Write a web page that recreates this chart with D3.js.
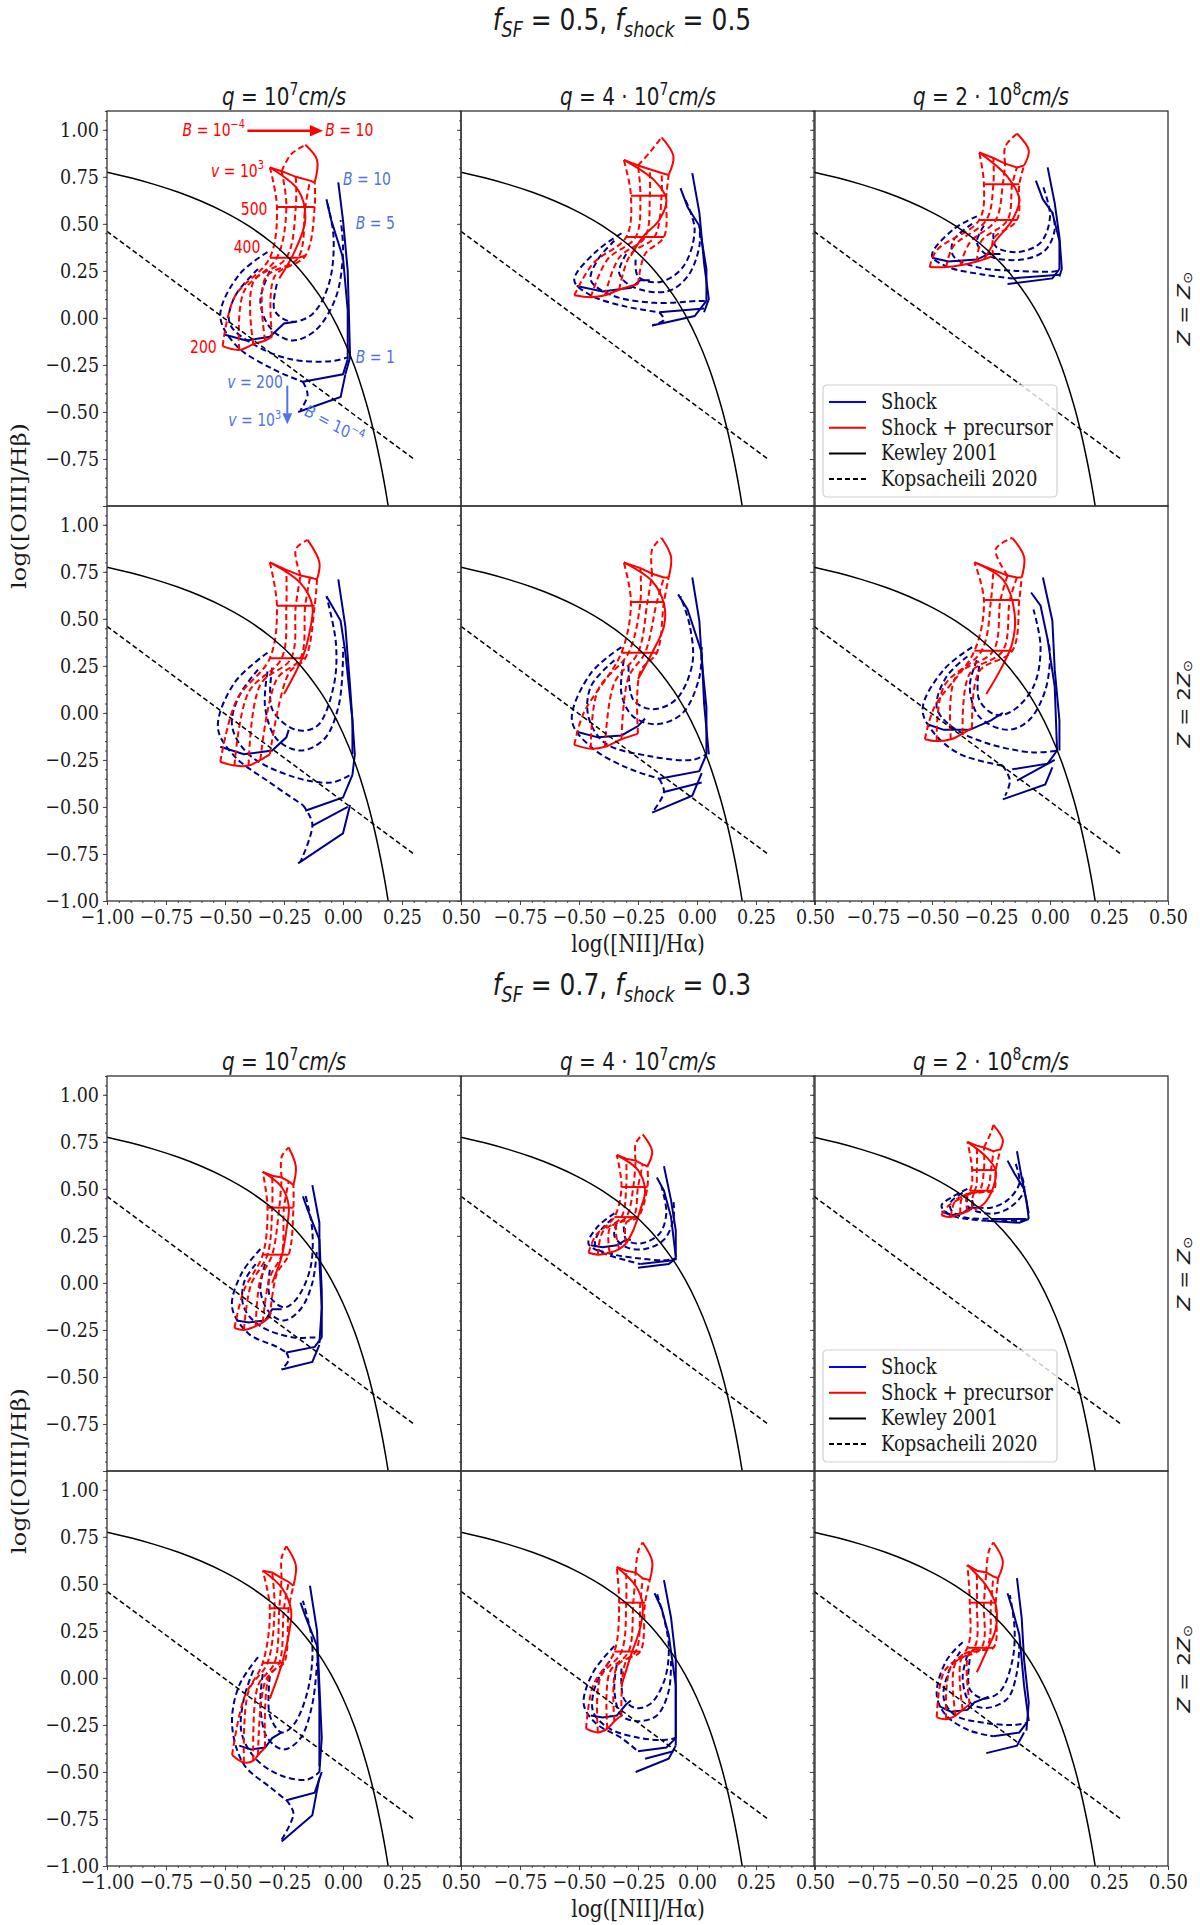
<!DOCTYPE html>
<html>
<head>
<meta charset="utf-8">
<script src="https://cdn.jsdelivr.net/npm/d3@7"></script>
<style>
  body { margin: 0; background: #fff; }
  svg text { font-family: "DejaVu Serif", serif; fill: #1a1a1a; }
  svg text.math { font-family: "DejaVu Sans", sans-serif; }
</style>
</head>
<body>
<svg id="chart" width="1200" height="1925"></svg>
<script>
// ---- text content ----
var fSF = ["0.5", "0.7"];
var fShock = ["0.5", "0.3"];
var qPre = ["10", "4 \u00b7 10", "2 \u00b7 10"];
var qExp = ["7", "7", "8"];
var zLabels = ["", "2"];
var xTicks = [-1, -0.75, -0.5, -0.25, 0, 0.25, 0.5];
var yTicks = [-1, -0.75, -0.5, -0.25, 0, 0.25, 0.5, 0.75, 1];
var legendItems = [
  { label: "Shock", color: "#0000ff", dash: null },
  { label: "Shock + precursor", color: "#ff0000", dash: null },
  { label: "Kewley 2001", color: "#000", dash: null },
  { label: "Kopsacheili 2020", color: "#000", dash: "5,3" }
];

// ---- reference lines ----
var kewley = [[-1.0,0.775],[-0.9,0.745],[-0.8,0.71],[-0.7,0.669],[-0.6,0.62],[-0.5,0.561],
  [-0.4,0.489],[-0.3,0.398],[-0.2,0.28],[-0.1,0.12],[-0.05,0.017],[0.0,-0.108],[0.05,-0.262],
  [0.1,-0.459],[0.13,-0.604],[0.16,-0.778],[0.18,-0.913],[0.19,-0.989],[0.2,-1.069]];
var kopsacheili = [[-1.0,0.46],[0.3,-0.75]];

// ---- model grids, one per panel ----
// red: shock + precursor nodes, rows v = 200, 300, 400, 500, 1000 ; columns B low -> high
// redDash / redSolid: extra arcs ; blueDash / blueSolid: shock-only tracks
var f05_z1_q1 = {
  red: [[[-0.51,-0.15],[-0.44,-0.17],[-0.38,-0.14],[-0.33,-0.12],[-0.30,-0.10]],
        [[-0.46,0.11],[-0.42,0.14],[-0.38,0.19],[-0.33,0.21],[-0.29,0.22]],
        [[-0.31,0.32],[-0.28,0.32],[-0.24,0.32],[-0.19,0.32],[-0.16,0.33]],
        [[-0.28,0.59],[-0.24,0.59],[-0.20,0.59],[-0.16,0.59],[-0.12,0.59]],
        [[-0.31,0.80],[-0.26,0.78],[-0.20,0.75],[-0.14,0.73],[-0.12,0.72]]],
  redDash: [[[-0.26,0.78],[-0.22,0.87],[-0.16,0.92]]],
  redSolid: [[[-0.16,0.92],[-0.11,0.84],[-0.12,0.72]],
             [[-0.31,0.80],[-0.19,0.68],[-0.16,0.52],[-0.21,0.34],[-0.27,0.21]]],
  blueDash: [[[-0.32,0.35],[-0.44,0.23],[-0.52,0.01],[-0.45,-0.15],[-0.30,-0.27],[-0.17,-0.34]],
             [[-0.36,0.26],[-0.46,0.11],[-0.48,-0.03],[-0.38,-0.14],[-0.22,-0.22],[-0.05,-0.23],[0.02,-0.21]],
             [[-0.31,0.25],[-0.35,0.09],[-0.31,-0.05],[-0.22,-0.12],[-0.12,-0.07],[-0.03,0.11],[0.00,0.36],[-0.01,0.52]],
             [[-0.28,0.18],[-0.29,0.04],[-0.22,-0.02],[-0.13,0.02],[-0.06,0.18],[-0.04,0.43],[-0.07,0.63]],
             [[-0.17,-0.34],[-0.15,-0.41],[-0.18,-0.49]]],
  blueSolid: [[[-0.02,0.72],[0.00,0.52],[0.02,0.25],[0.03,-0.21],[0.01,-0.30]],
              [[-0.07,0.63],[-0.05,0.52],[0.00,0.32],[0.02,0.04],[0.02,-0.22]],
              [[-0.17,-0.34],[0.00,-0.30],[0.02,-0.22]],
              [[-0.19,-0.50],[-0.01,-0.42],[0.01,-0.30]],
              [[-0.50,-0.09],[-0.41,-0.12],[-0.31,-0.10],[-0.25,-0.03],[-0.20,-0.02]]]
};
var f05_z1_q2 = {
  red: [[[-0.52,0.12],[-0.45,0.11],[-0.39,0.12],[-0.33,0.15],[-0.25,0.18]],
        [[-0.44,0.29],[-0.38,0.31],[-0.33,0.32],[-0.28,0.34],[-0.22,0.34]],
        [[-0.30,0.43],[-0.26,0.43],[-0.22,0.43],[-0.18,0.43],[-0.14,0.43]],
        [[-0.28,0.65],[-0.24,0.65],[-0.20,0.65],[-0.15,0.65],[-0.13,0.65]],
        [[-0.31,0.84],[-0.25,0.81],[-0.20,0.79],[-0.15,0.77],[-0.12,0.76]]],
  redDash: [[[-0.25,0.81],[-0.20,0.88],[-0.15,0.96]]],
  redSolid: [[[-0.15,0.96],[-0.10,0.86],[-0.12,0.76]],
             [[-0.31,0.84],[-0.18,0.73],[-0.13,0.63],[-0.16,0.52],[-0.23,0.43],[-0.28,0.33]]],
  blueDash: [[[-0.32,0.45],[-0.43,0.35],[-0.52,0.20],[-0.45,0.12],[-0.30,0.06],[-0.16,0.03]],
             [[-0.35,0.41],[-0.42,0.31],[-0.45,0.20],[-0.36,0.12],[-0.18,0.08],[0.00,0.09],[0.04,0.09]],
             [[-0.30,0.34],[-0.33,0.24],[-0.28,0.17],[-0.13,0.14],[-0.04,0.22],[0.01,0.38],[0.01,0.49]],
             [[-0.26,0.31],[-0.25,0.22],[-0.16,0.19],[-0.06,0.27],[-0.01,0.47],[-0.05,0.63]],
             [[-0.16,0.03],[-0.14,-0.01],[-0.19,-0.04]]],
  blueSolid: [[[-0.02,0.77],[0.01,0.56],[0.03,0.29],[0.05,0.10],[0.03,0.03]],
              [[-0.07,0.69],[-0.04,0.59],[0.01,0.49],[0.04,0.26],[0.04,0.09]],
              [[-0.19,-0.04],[-0.01,0.01],[0.04,0.09]],
              [[-0.16,0.03],[0.03,0.05]],
              [[-0.51,0.17],[-0.40,0.14],[-0.28,0.16],[-0.24,0.20],[-0.20,0.20]]]
};
var f05_z1_q3 = {
  red: [[[-0.51,0.27],[-0.44,0.27],[-0.38,0.28],[-0.31,0.30],[-0.24,0.33]],
        [[-0.48,0.36],[-0.41,0.38],[-0.34,0.40],[-0.29,0.41],[-0.24,0.42]],
        [[-0.30,0.52],[-0.27,0.52],[-0.23,0.52],[-0.18,0.52],[-0.14,0.52]],
        [[-0.28,0.71],[-0.24,0.71],[-0.20,0.71],[-0.16,0.71],[-0.13,0.71]],
        [[-0.30,0.88],[-0.24,0.85],[-0.19,0.82],[-0.14,0.80],[-0.11,0.81]]],
  redDash: [[[-0.19,0.82],[-0.19,0.91],[-0.14,0.98]]],
  redSolid: [[[-0.14,0.98],[-0.09,0.89],[-0.11,0.81]],
             [[-0.30,0.88],[-0.18,0.75],[-0.13,0.63],[-0.16,0.52],[-0.23,0.41],[-0.28,0.31]]],
  blueDash: [[[-0.31,0.54],[-0.41,0.47],[-0.50,0.33],[-0.43,0.27],[-0.28,0.23],[-0.16,0.21]],
             [[-0.33,0.50],[-0.41,0.41],[-0.41,0.33],[-0.31,0.27],[-0.14,0.25],[0.03,0.25],[0.04,0.26]],
             [[-0.28,0.49],[-0.31,0.40],[-0.26,0.33],[-0.12,0.31],[-0.02,0.36],[0.02,0.47],[0.01,0.56]],
             [[-0.24,0.45],[-0.23,0.38],[-0.14,0.35],[-0.04,0.40],[0.00,0.54],[-0.03,0.70]]],
  blueSolid: [[[-0.01,0.80],[0.02,0.61],[0.04,0.43],[0.05,0.26],[0.04,0.22]],
              [[-0.06,0.73],[-0.03,0.63],[0.01,0.56],[0.04,0.41],[0.04,0.26]],
              [[-0.18,0.18],[0.01,0.21],[0.04,0.26]],
              [[-0.16,0.21],[0.04,0.23]],
              [[-0.50,0.32],[-0.43,0.30],[-0.31,0.31],[-0.26,0.34],[-0.21,0.34]]]
};
var f05_z2_q1 = {
  red: [[[-0.52,-0.26],[-0.46,-0.28],[-0.40,-0.28],[-0.35,-0.25],[-0.31,-0.22]],
        [[-0.45,0.07],[-0.40,0.11],[-0.35,0.15],[-0.28,0.18],[-0.23,0.21]],
        [[-0.31,0.29],[-0.26,0.29],[-0.22,0.29],[-0.18,0.29],[-0.16,0.29]],
        [[-0.28,0.57],[-0.24,0.57],[-0.20,0.57],[-0.16,0.57],[-0.12,0.57]],
        [[-0.31,0.80],[-0.24,0.76],[-0.18,0.73],[-0.14,0.72],[-0.11,0.71]]],
  redDash: [[[-0.18,0.73],[-0.20,0.87],[-0.15,0.92]]],
  redSolid: [[[-0.15,0.92],[-0.10,0.80],[-0.11,0.71]],
             [[-0.31,0.80],[-0.18,0.69],[-0.13,0.57],[-0.14,0.44],[-0.17,0.30],[-0.25,0.10]]],
  blueDash: [[[-0.32,0.32],[-0.46,0.16],[-0.53,-0.08],[-0.46,-0.23],[-0.31,-0.37],[-0.17,-0.49]],
             [[-0.36,0.23],[-0.44,0.09],[-0.47,-0.07],[-0.40,-0.22],[-0.21,-0.34],[-0.05,-0.37],[0.03,-0.33]],
             [[-0.32,0.22],[-0.33,0.03],[-0.28,-0.14],[-0.18,-0.20],[-0.08,-0.14],[-0.02,0.03],[0.00,0.28],[0.00,0.35]],
             [[-0.30,0.24],[-0.30,0.02],[-0.20,-0.09],[-0.11,-0.07],[-0.04,0.14],[-0.03,0.37],[-0.07,0.62]],
             [[-0.17,-0.49],[-0.13,-0.59],[-0.18,-0.79]]],
  blueSolid: [[[-0.02,0.71],[0.01,0.46],[0.03,0.14],[0.05,-0.22],[0.04,-0.33]],
              [[-0.07,0.62],[-0.01,0.49],[0.01,0.32],[0.04,-0.04],[0.04,-0.22]],
              [[-0.16,-0.52],[0.00,-0.45],[0.04,-0.33]],
              [[-0.19,-0.80],[0.00,-0.64],[0.03,-0.49]],
              [[-0.13,-0.60],[0.02,-0.50]],
              [[-0.52,-0.18],[-0.42,-0.22],[-0.30,-0.20],[-0.24,-0.13],[-0.23,-0.09]]]
};
var f05_z2_q2 = {
  red: [[[-0.52,-0.17],[-0.45,-0.19],[-0.39,-0.18],[-0.32,-0.14],[-0.25,-0.11]],
        [[-0.48,0.00],[-0.42,0.12],[-0.35,0.16],[-0.29,0.19],[-0.24,0.22]],
        [[-0.32,0.32],[-0.29,0.32],[-0.25,0.32],[-0.22,0.32],[-0.17,0.32]],
        [[-0.28,0.59],[-0.24,0.59],[-0.21,0.59],[-0.17,0.59],[-0.14,0.59]],
        [[-0.31,0.80],[-0.24,0.77],[-0.19,0.74],[-0.14,0.72],[-0.12,0.72]]],
  redDash: [[[-0.19,0.74],[-0.19,0.87],[-0.15,0.93]]],
  redSolid: [[[-0.15,0.93],[-0.11,0.83],[-0.12,0.72]],
             [[-0.31,0.80],[-0.19,0.70],[-0.14,0.58],[-0.14,0.46],[-0.19,0.32],[-0.25,0.18]]],
  blueDash: [[[-0.32,0.35],[-0.45,0.21],[-0.53,-0.04],[-0.45,-0.18],[-0.30,-0.29],[-0.16,-0.35]],
             [[-0.35,0.28],[-0.45,0.14],[-0.46,-0.02],[-0.39,-0.16],[-0.20,-0.23],[-0.02,-0.25],[0.04,-0.22]],
             [[-0.31,0.28],[-0.32,0.10],[-0.27,-0.02],[-0.17,-0.06],[-0.06,0.00],[0.01,0.19],[0.02,0.35]],
             [[-0.29,0.25],[-0.27,0.07],[-0.19,0.02],[-0.09,0.07],[-0.02,0.26],[-0.03,0.46],[-0.07,0.62]],
             [[-0.16,-0.35],[-0.14,-0.42],[-0.19,-0.53]]],
  blueSolid: [[[-0.02,0.72],[0.01,0.49],[0.02,0.28],[0.04,0.03],[0.04,-0.22]],
              [[-0.08,0.63],[-0.04,0.55],[0.02,0.32],[0.03,0.05],[0.05,-0.22]],
              [[-0.16,-0.35],[0.01,-0.31],[0.04,-0.22]],
              [[-0.19,-0.53],[-0.02,-0.44],[0.02,-0.32]],
              [[-0.14,-0.42],[0.02,-0.37]],
              [[-0.51,-0.10],[-0.42,-0.13],[-0.32,-0.12],[-0.25,-0.07],[-0.22,-0.03]]]
};
var f05_z2_q3 = {
  red: [[[-0.53,-0.14],[-0.48,-0.15],[-0.42,-0.14],[-0.37,-0.11],[-0.33,-0.08]],
        [[-0.49,0.03],[-0.45,0.14],[-0.40,0.19],[-0.34,0.21],[-0.30,0.22]],
        [[-0.32,0.33],[-0.29,0.33],[-0.24,0.33],[-0.20,0.33],[-0.16,0.33]],
        [[-0.28,0.60],[-0.25,0.60],[-0.21,0.60],[-0.17,0.60],[-0.13,0.60]],
        [[-0.32,0.80],[-0.24,0.76],[-0.18,0.73],[-0.14,0.72],[-0.12,0.72]]],
  redDash: [[[-0.18,0.73],[-0.23,0.87],[-0.16,0.93]]],
  redSolid: [[[-0.16,0.93],[-0.11,0.83],[-0.12,0.72]],
             [[-0.32,0.80],[-0.20,0.71],[-0.15,0.53],[-0.16,0.37],[-0.21,0.23],[-0.27,0.10]]],
  blueDash: [[[-0.33,0.35],[-0.45,0.23],[-0.54,0.02],[-0.49,-0.11],[-0.38,-0.22],[-0.20,-0.28]],
             [[-0.35,0.30],[-0.44,0.19],[-0.48,0.03],[-0.42,-0.07],[-0.27,-0.16],[-0.07,-0.21],[0.03,-0.20]],
             [[-0.31,0.28],[-0.34,0.14],[-0.30,-0.02],[-0.18,-0.09],[-0.09,-0.04],[-0.02,0.12],[0.00,0.32],[-0.01,0.39]],
             [[-0.30,0.25],[-0.30,0.07],[-0.23,-0.01],[-0.16,0.01],[-0.07,0.14],[-0.04,0.35],[-0.07,0.55]],
             [[-0.20,-0.28],[-0.17,-0.36],[-0.19,-0.44]]],
  blueSolid: [[[-0.03,0.72],[0.01,0.49],[0.02,0.23],[0.04,-0.04],[0.04,-0.20]],
              [[-0.08,0.64],[-0.04,0.57],[-0.01,0.39],[0.02,0.14],[0.03,-0.20]],
              [[-0.16,-0.30],[-0.01,-0.27],[0.03,-0.20]],
              [[-0.20,-0.46],[-0.02,-0.38],[0.01,-0.29]],
              [[-0.14,-0.36],[0.02,-0.25]],
              [[-0.52,-0.06],[-0.45,-0.09],[-0.34,-0.09],[-0.25,-0.04],[-0.20,0.00]]]
};
var f07_z1_q1 = {
  red: [[[-0.46,-0.24],[-0.42,-0.25],[-0.37,-0.23],[-0.34,-0.21],[-0.31,-0.18]],
        [[-0.42,-0.04],[-0.39,-0.01],[-0.35,0.02],[-0.31,0.03],[-0.28,0.05]],
        [[-0.34,0.15],[-0.32,0.15],[-0.30,0.15],[-0.26,0.15],[-0.23,0.15]],
        [[-0.32,0.40],[-0.30,0.40],[-0.27,0.40],[-0.25,0.40],[-0.21,0.40]],
        [[-0.34,0.59],[-0.30,0.57],[-0.26,0.56],[-0.23,0.54],[-0.21,0.52]]],
  redDash: [[[-0.26,0.56],[-0.26,0.67],[-0.23,0.72]]],
  redSolid: [[[-0.23,0.72],[-0.20,0.62],[-0.21,0.52]],
             [[-0.34,0.59],[-0.26,0.51],[-0.23,0.41],[-0.24,0.28],[-0.26,0.14],[-0.30,0.00]]],
  blueDash: [[[-0.35,0.18],[-0.43,0.05],[-0.47,-0.13],[-0.40,-0.27],[-0.28,-0.34],[-0.24,-0.37]],
             [[-0.37,0.10],[-0.42,0.00],[-0.42,-0.13],[-0.35,-0.23],[-0.21,-0.29],[-0.13,-0.29],[-0.10,-0.29]],
             [[-0.33,0.10],[-0.35,-0.04],[-0.31,-0.16],[-0.25,-0.20],[-0.18,-0.14],[-0.13,0.00],[-0.11,0.18]],
             [[-0.31,0.07],[-0.31,-0.07],[-0.25,-0.13],[-0.20,-0.09],[-0.14,0.07],[-0.13,0.28],[-0.16,0.47]],
             [[-0.24,-0.37],[-0.23,-0.41],[-0.26,-0.46]]],
  blueSolid: [[[-0.13,0.52],[-0.10,0.32],[-0.10,0.12],[-0.09,-0.13],[-0.10,-0.32]],
              [[-0.17,0.46],[-0.15,0.39],[-0.10,0.23],[-0.09,-0.04],[-0.09,-0.29]],
              [[-0.24,-0.37],[-0.12,-0.34],[-0.09,-0.29]],
              [[-0.26,-0.46],[-0.13,-0.42],[-0.10,-0.33]],
              [[-0.45,-0.20],[-0.40,-0.21],[-0.33,-0.20],[-0.30,-0.14],[-0.26,-0.14]]]
};
var f07_z1_q2 = {
  red: [[[-0.46,0.16],[-0.42,0.15],[-0.37,0.16],[-0.33,0.18],[-0.30,0.21]],
        [[-0.43,0.25],[-0.40,0.27],[-0.37,0.29],[-0.34,0.31],[-0.30,0.32]],
        [[-0.35,0.35],[-0.32,0.35],[-0.30,0.35],[-0.27,0.35],[-0.25,0.35]],
        [[-0.32,0.51],[-0.30,0.51],[-0.27,0.51],[-0.25,0.51],[-0.21,0.51]],
        [[-0.34,0.68],[-0.30,0.66],[-0.26,0.65],[-0.23,0.63],[-0.21,0.62]]],
  redDash: [[[-0.26,0.65],[-0.26,0.74],[-0.23,0.79]]],
  redSolid: [[[-0.23,0.79],[-0.19,0.70],[-0.21,0.62]],
             [[-0.34,0.68],[-0.25,0.60],[-0.22,0.49],[-0.24,0.39],[-0.27,0.28],[-0.30,0.21]]],
  blueDash: [[[-0.35,0.37],[-0.42,0.30],[-0.46,0.21],[-0.40,0.16],[-0.30,0.12],[-0.24,0.10]],
             [[-0.36,0.34],[-0.42,0.26],[-0.43,0.19],[-0.35,0.15],[-0.24,0.13],[-0.14,0.12],[-0.09,0.13]],
             [[-0.34,0.32],[-0.35,0.25],[-0.30,0.19],[-0.22,0.18],[-0.14,0.23],[-0.10,0.34],[-0.10,0.44]],
             [[-0.31,0.30],[-0.30,0.23],[-0.24,0.21],[-0.16,0.26],[-0.13,0.37],[-0.15,0.51]]],
  blueSolid: [[[-0.14,0.62],[-0.11,0.44],[-0.09,0.28],[-0.09,0.12]],
              [[-0.17,0.56],[-0.14,0.49],[-0.11,0.35],[-0.09,0.14]],
              [[-0.25,0.08],[-0.12,0.10],[-0.09,0.13]],
              [[-0.24,0.10],[-0.10,0.12]],
              [[-0.45,0.20],[-0.40,0.19],[-0.34,0.20],[-0.30,0.23],[-0.28,0.23]]]
};
var f07_z1_q3 = {
  red: [[[-0.46,0.36],[-0.42,0.35],[-0.38,0.37],[-0.35,0.38],[-0.33,0.40]],
        [[-0.43,0.41],[-0.40,0.44],[-0.37,0.46],[-0.35,0.47],[-0.32,0.48]],
        [[-0.34,0.49],[-0.32,0.49],[-0.30,0.49],[-0.27,0.49],[-0.24,0.49]],
        [[-0.33,0.60],[-0.31,0.60],[-0.28,0.60],[-0.25,0.60],[-0.23,0.60]],
        [[-0.35,0.75],[-0.31,0.73],[-0.28,0.72],[-0.24,0.70],[-0.21,0.71]]],
  redDash: [[[-0.28,0.72],[-0.25,0.80],[-0.24,0.84]]],
  redSolid: [[[-0.24,0.84],[-0.20,0.76],[-0.21,0.71]],
             [[-0.35,0.75],[-0.27,0.67],[-0.23,0.60],[-0.24,0.51],[-0.28,0.42],[-0.32,0.39]]],
  blueDash: [[[-0.35,0.50],[-0.41,0.46],[-0.46,0.41],[-0.42,0.36],[-0.35,0.34],[-0.27,0.33]],
             [[-0.37,0.48],[-0.42,0.43],[-0.42,0.39],[-0.37,0.35],[-0.24,0.34],[-0.13,0.33],[-0.09,0.34]],
             [[-0.35,0.46],[-0.35,0.41],[-0.31,0.38],[-0.23,0.37],[-0.16,0.41],[-0.11,0.49],[-0.12,0.57]],
             [[-0.33,0.44],[-0.32,0.41],[-0.25,0.40],[-0.18,0.44],[-0.13,0.53],[-0.15,0.65]]],
  blueSolid: [[[-0.14,0.70],[-0.12,0.56],[-0.10,0.44],[-0.09,0.34]],
              [[-0.18,0.65],[-0.15,0.58],[-0.11,0.50],[-0.09,0.37]],
              [[-0.27,0.33],[-0.13,0.32],[-0.09,0.34]],
              [[-0.25,0.34],[-0.10,0.34]],
              [[-0.46,0.38],[-0.42,0.36],[-0.37,0.37],[-0.34,0.40],[-0.31,0.40]]]
};
var f07_z2_q1 = {
  red: [[[-0.47,-0.41],[-0.42,-0.45],[-0.38,-0.44],[-0.36,-0.41],[-0.33,-0.37]],
        [[-0.42,-0.11],[-0.40,-0.07],[-0.36,-0.04],[-0.33,-0.02],[-0.31,0.02]],
        [[-0.34,0.08],[-0.32,0.08],[-0.29,0.08],[-0.27,0.08],[-0.25,0.08]],
        [[-0.31,0.37],[-0.29,0.37],[-0.27,0.37],[-0.25,0.37],[-0.23,0.37]],
        [[-0.34,0.57],[-0.30,0.56],[-0.26,0.53],[-0.23,0.51],[-0.21,0.49]]],
  redDash: [[[-0.26,0.53],[-0.26,0.64],[-0.24,0.70]]],
  redSolid: [[[-0.24,0.70],[-0.20,0.60],[-0.21,0.49]],
             [[-0.34,0.57],[-0.26,0.48],[-0.22,0.36],[-0.23,0.23],[-0.26,0.07],[-0.31,-0.11]]],
  blueDash: [[[-0.36,0.11],[-0.44,-0.04],[-0.47,-0.25],[-0.42,-0.46],[-0.31,-0.58],[-0.24,-0.65]],
             [[-0.38,0.04],[-0.42,-0.11],[-0.43,-0.29],[-0.37,-0.43],[-0.26,-0.52],[-0.15,-0.54],[-0.10,-0.50]],
             [[-0.34,0.02],[-0.35,-0.15],[-0.32,-0.32],[-0.25,-0.38],[-0.18,-0.32],[-0.13,-0.14],[-0.11,0.08]],
             [[-0.31,0.01],[-0.31,-0.20],[-0.26,-0.29],[-0.21,-0.25],[-0.15,-0.07],[-0.13,0.18],[-0.17,0.41]],
             [[-0.24,-0.65],[-0.21,-0.72],[-0.26,-0.86]]],
  blueSolid: [[[-0.14,0.49],[-0.11,0.25],[-0.10,-0.04],[-0.09,-0.32],[-0.10,-0.50]],
              [[-0.18,0.40],[-0.16,0.33],[-0.11,0.17],[-0.10,-0.13],[-0.10,-0.47]],
              [[-0.24,-0.65],[-0.12,-0.61],[-0.09,-0.50]],
              [[-0.26,-0.87],[-0.13,-0.73],[-0.10,-0.53]],
              [[-0.44,-0.36],[-0.39,-0.38],[-0.33,-0.37],[-0.30,-0.32],[-0.26,-0.29]]]
};
var f07_z2_q2 = {
  red: [[[-0.47,-0.27],[-0.42,-0.29],[-0.38,-0.27],[-0.35,-0.23],[-0.32,-0.20]],
        [[-0.44,-0.04],[-0.41,0.00],[-0.37,0.03],[-0.34,0.06],[-0.30,0.09]],
        [[-0.35,0.14],[-0.32,0.14],[-0.29,0.14],[-0.26,0.14],[-0.24,0.14]],
        [[-0.33,0.40],[-0.30,0.40],[-0.27,0.40],[-0.24,0.40],[-0.22,0.40]],
        [[-0.34,0.59],[-0.30,0.57],[-0.26,0.56],[-0.23,0.53],[-0.20,0.52]]],
  redDash: [[[-0.26,0.56],[-0.25,0.67],[-0.23,0.72]]],
  redSolid: [[[-0.23,0.72],[-0.19,0.62],[-0.20,0.52]],
             [[-0.34,0.59],[-0.26,0.49],[-0.23,0.39],[-0.24,0.27],[-0.28,0.12],[-0.32,-0.04]]],
  blueDash: [[[-0.35,0.17],[-0.44,0.03],[-0.48,-0.14],[-0.43,-0.24],[-0.32,-0.32],[-0.25,-0.39]],
             [[-0.37,0.09],[-0.43,-0.04],[-0.44,-0.18],[-0.37,-0.27],[-0.24,-0.32],[-0.14,-0.33],[-0.09,-0.32]],
             [[-0.34,0.07],[-0.35,-0.07],[-0.32,-0.20],[-0.25,-0.23],[-0.17,-0.20],[-0.12,-0.07],[-0.11,0.09]],
             [[-0.32,0.05],[-0.31,-0.11],[-0.26,-0.16],[-0.20,-0.14],[-0.14,-0.02],[-0.12,0.18],[-0.17,0.45]]],
  blueSolid: [[[-0.14,0.52],[-0.11,0.32],[-0.09,0.10],[-0.09,-0.18],[-0.09,-0.36]],
              [[-0.18,0.45],[-0.15,0.37],[-0.12,0.23],[-0.09,-0.04],[-0.09,-0.32]],
              [[-0.25,-0.39],[-0.13,-0.37],[-0.09,-0.32]],
              [[-0.26,-0.50],[-0.12,-0.43],[-0.09,-0.36]],
              [[-0.22,-0.43],[-0.10,-0.39]],
              [[-0.45,-0.20],[-0.40,-0.21],[-0.34,-0.20],[-0.30,-0.14],[-0.28,-0.12]]]
};
var f07_z2_q3 = {
  red: [[[-0.48,-0.21],[-0.44,-0.22],[-0.40,-0.20],[-0.37,-0.17],[-0.34,-0.14]],
        [[-0.45,0.03],[-0.42,0.06],[-0.40,0.08],[-0.37,0.12],[-0.34,0.14]],
        [[-0.35,0.16],[-0.32,0.16],[-0.29,0.16],[-0.27,0.16],[-0.24,0.16]],
        [[-0.34,0.40],[-0.31,0.40],[-0.28,0.40],[-0.25,0.40],[-0.23,0.40]],
        [[-0.35,0.60],[-0.31,0.57],[-0.27,0.56],[-0.24,0.54],[-0.22,0.53]]],
  redDash: [[[-0.27,0.56],[-0.26,0.67],[-0.24,0.72]]],
  redSolid: [[[-0.24,0.72],[-0.20,0.62],[-0.22,0.53]],
             [[-0.35,0.60],[-0.27,0.49],[-0.23,0.39],[-0.23,0.26],[-0.27,0.14],[-0.31,0.03]]],
  blueDash: [[[-0.37,0.19],[-0.44,0.09],[-0.48,-0.09],[-0.44,-0.20],[-0.34,-0.28],[-0.24,-0.31]],
             [[-0.38,0.14],[-0.43,0.03],[-0.45,-0.11],[-0.40,-0.20],[-0.27,-0.24],[-0.16,-0.25],[-0.10,-0.24]],
             [[-0.35,0.12],[-0.37,0.00],[-0.34,-0.13],[-0.27,-0.16],[-0.18,-0.11],[-0.14,0.03],[-0.13,0.18]],
             [[-0.34,0.10],[-0.34,-0.06],[-0.28,-0.11],[-0.21,-0.07],[-0.16,0.09],[-0.15,0.26],[-0.17,0.44]]],
  blueSolid: [[[-0.14,0.53],[-0.12,0.32],[-0.11,0.10],[-0.09,-0.13],[-0.10,-0.28]],
              [[-0.18,0.45],[-0.16,0.37],[-0.13,0.23],[-0.11,-0.04],[-0.09,-0.23]],
              [[-0.24,-0.31],[-0.13,-0.29],[-0.10,-0.24]],
              [[-0.27,-0.40],[-0.14,-0.36],[-0.11,-0.29]],
              [[-0.47,-0.15],[-0.42,-0.18],[-0.35,-0.17],[-0.32,-0.13],[-0.26,-0.10]]]
};

var figures = [
  [[f05_z1_q1, f05_z1_q2, f05_z1_q3], [f05_z2_q1, f05_z2_q2, f05_z2_q3]],
  [[f07_z1_q1, f07_z1_q2, f07_z1_q3], [f07_z2_q1, f07_z2_q2, f07_z2_q3]]
];

// ---- layout ----
var W = 354, H = 395, SY = 1.2;
var colLeft = [107, 461, 814];
var figTop = [111, 1076];
var RED = "#ff0000", BLUE = "#00008b", ANN_BLUE = "#4f74e3";

var xScale = d3.scaleLinear().domain([-1, 0.5]).range([0, W]);
var yScale = d3.scaleLinear().domain([-1, 1.1]).range([H, 0]);

var svg = d3.select("#chart");
svg.append("rect").attr("width", 1200).attr("height", 1925).attr("fill", "#fff");

var straight = d3.line().x(function (d) { return xScale(d[0]); }).y(function (d) { return yScale(d[1]); });
var smooth = d3.line().curve(d3.curveCatmullRom.alpha(0.5))
  .x(function (d) { return xScale(d[0]); }).y(function (d) { return yScale(d[1]); });

// text placed in its own group so it can be stretched vertically like the original picture
function label(parent, x, y, rot) {
  var g = parent.append("g").attr("transform", "translate(" + x + "," + y + ") scale(1," + SY + ")" + (rot ? " rotate(" + rot + ")" : ""));
  return g.append("text");
}
function mathParts(t, parts, size) {
  var off = 0;
  parts.forEach(function (p) {
    var target = p.sub ? size * 0.22 : (p.sup ? -size * 0.4 : 0);
    var s = t.append("tspan").attr("dy", target - off).text(p.t);
    off = target;
    if (p.sub || p.sup) s.attr("font-size", size * 0.7);
    if (p.i) s.attr("font-style", "italic");
  });
}

function drawPanel(g, d, f, r, c) {
  var clipId = "clip" + f + r + c;
  g.append("clipPath").attr("id", clipId).append("rect").attr("width", W).attr("height", H);
  var plot = g.append("g").attr("clip-path", "url(#" + clipId + ")");

  // shock only
  d.blueDash.forEach(function (p) {
    plot.append("path").attr("d", smooth(p)).attr("fill", "none").attr("stroke", BLUE)
      .attr("stroke-width", 2).attr("stroke-dasharray", "6,3.5");
  });
  d.blueSolid.forEach(function (p) {
    plot.append("path").attr("d", straight(p)).attr("fill", "none").attr("stroke", BLUE).attr("stroke-width", 2);
  });
  // shock + precursor
  d3.range(5).forEach(function (j) {
    var col = d.red.map(function (row) { return row[j]; });
    plot.append("path").attr("d", smooth(col)).attr("fill", "none").attr("stroke", RED)
      .attr("stroke-width", 2).attr("stroke-dasharray", "6,3.5");
  });
  d.redDash.forEach(function (p) {
    plot.append("path").attr("d", smooth(p)).attr("fill", "none").attr("stroke", RED)
      .attr("stroke-width", 2).attr("stroke-dasharray", "6,3.5");
  });
  [0, 2, 3, 4].forEach(function (i) {
    plot.append("path").attr("d", i === 0 ? smooth(d.red[i]) : straight(d.red[i])).attr("fill", "none")
      .attr("stroke", RED).attr("stroke-width", 2);
  });
  d.redSolid.forEach(function (p) {
    plot.append("path").attr("d", smooth(p)).attr("fill", "none").attr("stroke", RED).attr("stroke-width", 2);
  });

  // reference lines
  plot.append("path").attr("d", smooth(kewley)).attr("fill", "none").attr("stroke", "#000").attr("stroke-width", 1.5);
  plot.append("path").attr("d", straight(kopsacheili)).attr("fill", "none").attr("stroke", "#000")
    .attr("stroke-width", 1.5).attr("stroke-dasharray", "5,3");

  // y axis (ticks on every panel, labels only on the left column)
  var yMajor = g.append("g").call(d3.axisLeft(yScale).tickValues(yTicks).tickSize(4).tickPadding(4)
    .tickFormat(function (v) { return (c === 0 && !(r === 0 && v === -1)) ? d3.format(".2f")(v) : ""; }));
  var yMinor = g.append("g").call(d3.axisLeft(yScale).tickValues(d3.range(-1, 1.1001, 0.05)).tickSize(2).tickFormat(""));
  [yMajor, yMinor].forEach(function (a) {
    a.select(".domain").remove();
    a.selectAll("line").attr("stroke", "#444");
  });
  yMajor.selectAll("text").attr("font-size", 17.5).attr("font-family", "DejaVu Serif")
    .attr("transform", "scale(1," + SY + ")").attr("fill", "#1a1a1a");

  // x axis on the bottom row
  if (r === 1) {
    var xMajor = g.append("g").attr("transform", "translate(0," + H + ")")
      .call(d3.axisBottom(xScale).tickValues(xTicks).tickSize(4).tickPadding(2)
        .tickFormat(function (v) { return (c === 0 || v !== -1) ? d3.format(".2f")(v) : ""; }));
    var xMinor = g.append("g").attr("transform", "translate(0," + H + ")")
      .call(d3.axisBottom(xScale).tickValues(d3.range(-1, 0.5001, 0.05)).tickSize(2).tickFormat(""));
    [xMajor, xMinor].forEach(function (a) {
      a.select(".domain").remove();
      a.selectAll("line").attr("stroke", "#444");
    });
    xMajor.selectAll("text").attr("font-size", 17.5).attr("font-family", "DejaVu Serif")
      .attr("y", 6.5).attr("transform", "scale(1," + SY + ")").attr("fill", "#1a1a1a");
  }

  g.append("rect").attr("width", W).attr("height", H).attr("fill", "none").attr("stroke", "#333").attr("stroke-width", 1.3);
}

function drawLegend(g) {
  var lg = g.append("g").attr("transform", "translate(9," + (H - 121) + ")");
  lg.append("rect").attr("width", 234).attr("height", 112).attr("rx", 4)
    .attr("fill", "#fff").attr("fill-opacity", 0.8).attr("stroke", "#d0d0d0").attr("stroke-width", 1.2);
  legendItems.forEach(function (it, i) {
    var yy = 17 + i * 25.7;
    lg.append("line").attr("x1", 6).attr("x2", 43).attr("y1", yy).attr("y2", yy)
      .attr("stroke", it.color).attr("stroke-width", 2).attr("stroke-dasharray", it.dash);
    label(lg, 58, yy, 0).attr("font-size", 18).attr("dominant-baseline", "central").text(it.label);
  });
}

function annotate(g) {
  var ann = g.append("g").attr("class", "ann");
  function mt(px, py, anchor, color, parts, rot) {
    var t = label(ann, xScale(px), yScale(py), rot).attr("class", "math").attr("font-size", 14)
      .attr("text-anchor", anchor).attr("dominant-baseline", "central").attr("fill", color);
    mathParts(t, parts, 14);
    t.selectAll("tspan").attr("fill", color);
  }
  function arrow(x0, y0, x1, y1, color, w, head) {
    var ax0 = xScale(x0), ay0 = yScale(y0), ax1 = xScale(x1), ay1 = yScale(y1);
    var ang = Math.atan2(ay1 - ay0, ax1 - ax0);
    var bx = ax1 - head * Math.cos(ang), by = ay1 - head * Math.sin(ang);
    ann.append("line").attr("x1", ax0).attr("y1", ay0).attr("x2", bx).attr("y2", by)
      .attr("stroke", color).attr("stroke-width", w);
    var hw = head * 0.45;
    ann.append("path").attr("fill", color).attr("d",
      "M" + ax1 + "," + ay1 + "L" + (bx + hw * Math.sin(ang)) + "," + (by - hw * Math.cos(ang)) +
      "L" + (bx - hw * Math.sin(ang)) + "," + (by + hw * Math.cos(ang)) + "Z");
  }
  mt(-0.415, 0.995, "end", RED, [{ t: "B", i: 1 }, { t: " = 10" }, { t: "\u22124", sup: 1 }]);
  arrow(-0.405, 0.995, -0.085, 0.995, RED, 2.5, 13);
  mt(-0.075, 0.995, "start", RED, [{ t: "B", i: 1 }, { t: " = 10" }]);
  mt(-0.335, 0.78, "end", RED, [{ t: "v", i: 1 }, { t: " = 10" }, { t: "3", sup: 1 }]);
  mt(-0.32, 0.577, "end", RED, [{ t: "500" }]);
  mt(-0.35, 0.373, "end", RED, [{ t: "400" }]);
  mt(-0.535, -0.158, "end", RED, [{ t: "200" }]);
  mt(0.0, 0.737, "start", ANN_BLUE, [{ t: "B", i: 1 }, { t: " = 10" }]);
  mt(0.054, 0.50, "start", ANN_BLUE, [{ t: "B", i: 1 }, { t: " = 5" }]);
  mt(0.054, -0.211, "start", ANN_BLUE, [{ t: "B", i: 1 }, { t: " = 1" }]);
  mt(-0.255, -0.344, "end", ANN_BLUE, [{ t: "v", i: 1 }, { t: " = 200" }]);
  arrow(-0.236, -0.36, -0.236, -0.565, ANN_BLUE, 2, 11);
  mt(-0.262, -0.548, "end", ANN_BLUE, [{ t: "v", i: 1 }, { t: " = 10" }, { t: "3", sup: 1 }]);
  mt(-0.158, -0.49, "start", ANN_BLUE, [{ t: "B", i: 1 }, { t: " = 10" }, { t: "\u22124", sup: 1 }], 24);
}

figures.forEach(function (rows, f) {
  var top = figTop[f];
  // figure title
  var tt = label(svg, 622, top - 81, 0).attr("class", "math").attr("font-size", 25).attr("text-anchor", "middle");
  mathParts(tt, [{ t: "f", i: 1 }, { t: "SF", i: 1, sub: 1 }, { t: " = " + fSF[f] + ", " },
    { t: "f", i: 1 }, { t: "shock", i: 1, sub: 1 }, { t: " = " + fShock[f] }], 25);

  rows.forEach(function (cols, r) {
    cols.forEach(function (d, c) {
      var g = svg.append("g").attr("transform", "translate(" + colLeft[c] + "," + (top + r * H) + ")");
      drawPanel(g, d, f, r, c);
      if (f === 0 && r === 0 && c === 0) annotate(g);
      if (r === 0 && c === 2) drawLegend(g);
    });
    // metallicity label on the right
    var zt = label(svg, 1184, top + r * H + H / 2, -90).attr("class", "math").attr("font-size", 18)
      .attr("text-anchor", "middle").attr("dominant-baseline", "central");
    mathParts(zt, [{ t: "Z", i: 1 }, { t: " = " + zLabels[r] }, { t: "Z", i: 1 }, { t: "\u2299", sub: 1 }], 18);
  });

  // column titles
  colLeft.forEach(function (cl, c) {
    var ct = label(svg, cl + W / 2, top - 6, 0).attr("class", "math").attr("font-size", 20).attr("text-anchor", "middle");
    mathParts(ct, [{ t: "q", i: 1 }, { t: " = " + qPre[c] }, { t: qExp[c], sup: 1 }, { t: "cm/s", i: 1 }], 20);
  });

  // axis titles
  label(svg, 19, top + H, -90).attr("font-size", 20).attr("text-anchor", "middle")
    .attr("dominant-baseline", "central").text("log([OIII]/H\u03b2)");
  label(svg, colLeft[1] + W / 2, top + 2 * H + 42, 0).attr("font-size", 20).attr("text-anchor", "middle")
    .attr("dominant-baseline", "central").text("log([NII]/H\u03b1)");
});
</script>
</body>
</html>
